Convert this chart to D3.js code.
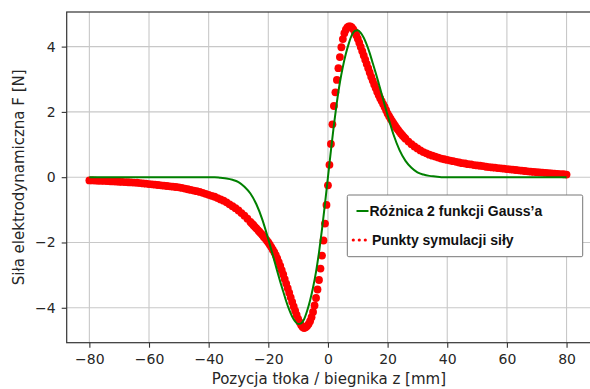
<!DOCTYPE html>
<html>
<head lang="pl">
    <meta charset="UTF-8">
    <script src="https://cdn.jsdelivr.net/npm/d3@7/dist/d3.min.js"></script>
    <style>
        body { margin: 0; background: #ffffff; }
        svg text { font-family: "DejaVu Sans", sans-serif; }
    </style>
</head>
<body>
<svg width="590" height="389"></svg>
<script>
    // tick labels
    var xTicks = [-80, -60, -40, -20, 0, 20, 40, 60, 80];
    var yTicks = [-4, -2, 0, 2, 4];
    var legendLabels = ['Różnica 2 funkcji Gauss\u2019a', 'Punkty symulacji siły'];

    // difference of two gaussians (green line)
    var gaussZ = [-80, -60, -50, -44, -40, -38, -36, -34, -32, -30, -28, -26, -24, -22,
        -20, -19, -18, -17, -16, -15, -14, -13, -12, -11, -10, -9, -8, -7, -6, -5, -4, -3, -2, -1,
        0, 1, 2, 3, 4, 5, 6, 7, 8, 9, 10, 11, 12, 13, 14, 15, 16, 17, 18, 19, 20,
        22, 24, 26, 28, 30, 32, 34, 36, 38, 40, 44, 50, 60, 80];
    var gaussF = [0, 0, 0, 0, 0, 0, -0.02, -0.04, -0.08, -0.15, -0.29, -0.50, -0.83, -1.30,
        -1.90, -2.22, -2.55, -2.88, -3.20, -3.50, -3.80, -4.06, -4.27, -4.42, -4.50, -4.48, -4.35, -4.10, -3.78, -3.38, -2.90, -2.30, -1.60, -0.82,
        0, 0.82, 1.60, 2.30, 2.90, 3.38, 3.78, 4.10, 4.35, 4.48, 4.50, 4.42, 4.27, 4.06, 3.80, 3.50, 3.20, 2.88, 2.55, 2.22, 1.90,
        1.30, 0.83, 0.50, 0.29, 0.15, 0.08, 0.04, 0.02, 0, 0, 0, 0, 0, 0];

    // simulation points (red): z -80..-26 step 1
    var simLeftTail = [-0.10, -0.10, -0.105, -0.11, -0.11, -0.115, -0.12, -0.125, -0.13, -0.135,
        -0.14, -0.145, -0.15, -0.155, -0.16, -0.165, -0.17, -0.18, -0.19, -0.20,
        -0.21, -0.22, -0.23, -0.24, -0.25, -0.26, -0.27, -0.28, -0.29, -0.30,
        -0.31, -0.33, -0.35, -0.37, -0.39, -0.41, -0.43, -0.45, -0.48, -0.51,
        -0.54, -0.57, -0.60, -0.64, -0.68, -0.72, -0.77, -0.83, -0.89, -0.95,
        -1.02, -1.10, -1.18, -1.27, -1.37];
    // z -25.5..25.5 step 0.5
    var simCore = [-1.42, -1.47, -1.52, -1.57, -1.62, -1.67, -1.72, -1.77, -1.83, -1.88,
        -1.94, -2.00, -2.07, -2.14, -2.22, -2.30, -2.39, -2.49, -2.60, -2.72,
        -2.85, -2.98, -3.12, -3.26, -3.40, -3.54, -3.68, -3.82, -3.96, -4.09,
        -4.22, -4.34, -4.44, -4.53, -4.59, -4.62, -4.60, -4.56, -4.50, -4.41,
        -4.29, -4.13, -3.93, -3.70, -3.44, -3.15, -2.80, -2.40, -1.94, -1.42,
        -0.85, -0.25, 0.38, 1.02, 1.62, 2.18, 2.60, 2.98, 3.34, 3.68,
        3.98, 4.23, 4.41, 4.52, 4.59, 4.62, 4.62, 4.59, 4.53, 4.45,
        4.35, 4.24, 4.12, 3.99, 3.86, 3.73, 3.60, 3.47, 3.34, 3.21,
        3.08, 2.96, 2.84, 2.73, 2.62, 2.52, 2.42, 2.33, 2.24, 2.15,
        2.05, 1.95, 1.87, 1.79, 1.72, 1.65, 1.58, 1.51, 1.45, 1.39,
        1.33, 1.28, 1.23];
    // z 26..80 step 1
    var simRightTail = [1.18, 1.09, 1.01, 0.94, 0.88, 0.82, 0.77, 0.73, 0.69, 0.66,
        0.63, 0.60, 0.57, 0.55, 0.53, 0.51, 0.49, 0.47, 0.45, 0.43,
        0.42, 0.40, 0.39, 0.37, 0.36, 0.35, 0.34, 0.32, 0.31, 0.30,
        0.29, 0.28, 0.27, 0.26, 0.25, 0.24, 0.23, 0.22, 0.21, 0.20,
        0.19, 0.18, 0.17, 0.16, 0.155, 0.145, 0.14, 0.13, 0.12, 0.115,
        0.11, 0.10, 0.095, 0.09, 0.08];

    var simZ = d3.range(-80, -25.5, 1).concat(d3.range(-25.5, 25.75, 0.5), d3.range(26, 80.5, 1));
    var simF = simLeftTail.concat(simCore, simRightTail);
    var simPoints = d3.zip(simZ, simF);
    var gaussPoints = d3.zip(gaussZ, gaussF);

    var plotLeft = 66.7, plotRight = 591, plotTop = 12, plotBottom = 342.7;
    var svg = d3.select('svg');

    var x = d3.scaleLinear().domain([-87.6, 88.2]).range([plotLeft, plotRight]);
    var y = d3.scaleLinear().domain([-5.07, 5.06]).range([plotBottom, plotTop]);

    var grid = svg.append('g');
    grid.selectAll('.vgrid')
        .data(xTicks)
        .enter()
        .append('line')
        .attr('x1', function (d) { return x(d); })
        .attr('x2', function (d) { return x(d); })
        .attr('y1', plotTop)
        .attr('y2', plotBottom)
        .attr('stroke', '#c8c8c8')
        .attr('stroke-width', 1.1);
    grid.selectAll('.hgrid')
        .data(yTicks)
        .enter()
        .append('line')
        .attr('x1', plotLeft)
        .attr('x2', plotRight)
        .attr('y1', function (d) { return y(d); })
        .attr('y2', function (d) { return y(d); })
        .attr('stroke', '#c8c8c8')
        .attr('stroke-width', 1.1);

    // red simulation points
    svg.append('g').selectAll('circle')
        .data(simPoints)
        .enter()
        .append('circle')
        .attr('cx', function (d) { return x(d[0]); })
        .attr('cy', function (d) { return y(d[1]); })
        .attr('r', 3.9)
        .attr('fill', '#ff0000');

    // green line
    var line = d3.line()
        .x(function (d) { return x(d[0]); })
        .y(function (d) { return y(d[1]); })
        .curve(d3.curveMonotoneX);
    svg.append('path')
        .datum(gaussPoints)
        .attr('d', line)
        .attr('fill', 'none')
        .attr('stroke', '#008000')
        .attr('stroke-width', 2);

    // axes
    var xAxis = svg.append('g')
        .attr('transform', 'translate(0,' + plotBottom + ')')
        .call(d3.axisBottom(x).tickValues(xTicks).tickSize(5).tickPadding(6));
    var yAxis = svg.append('g')
        .attr('transform', 'translate(' + plotLeft + ',0)')
        .call(d3.axisLeft(y).tickValues(yTicks).tickSize(5).tickPadding(6));
    [xAxis, yAxis].forEach(function (a) {
        a.select('.domain').remove();
        a.selectAll('line').attr('stroke', '#333333').attr('stroke-width', 1.1);
        a.selectAll('text')
            .attr('fill', '#262626')
            .style('font-size', '14px')
            .style('font-family', '"DejaVu Sans", sans-serif');
    });

    svg.append('rect')
        .attr('x', plotLeft)
        .attr('y', plotTop)
        .attr('width', plotRight - plotLeft)
        .attr('height', plotBottom - plotTop)
        .attr('fill', 'none')
        .attr('stroke', '#333333')
        .attr('stroke-width', 1.2);

    svg.append('text')
        .text('Pozycja tłoka / biegnika z [mm]')
        .attr('x', (plotLeft + plotRight) / 2)
        .attr('y', 384)
        .attr('text-anchor', 'middle')
        .attr('fill', '#262626')
        .style('font-size', '15px');

    svg.append('text')
        .text('Siła elektrodynamiczna F [N]')
        .attr('transform', 'translate(23.5,' + (plotTop + plotBottom) / 2 + ') rotate(-90)')
        .attr('text-anchor', 'middle')
        .attr('fill', '#262626')
        .style('font-size', '15px');

    // legend
    var lg = svg.append('g');
    lg.append('rect')
        .attr('x', 347.3)
        .attr('y', 195)
        .attr('width', 235.4)
        .attr('height', 61.7)
        .attr('rx', 1.5)
        .attr('fill', '#ffffff')
        .attr('stroke', '#777777')
        .attr('stroke-width', 1);
    lg.append('line')
        .attr('x1', 356.5).attr('x2', 368.5)
        .attr('y1', 211).attr('y2', 211)
        .attr('stroke', '#008000')
        .attr('stroke-width', 2);
    lg.selectAll('.ldot')
        .data([353.3, 359.3, 365.3])
        .enter()
        .append('circle')
        .attr('cx', function (d) { return d; })
        .attr('cy', 240)
        .attr('r', 1.6)
        .attr('fill', '#ff0000');
    lg.selectAll('.ltext')
        .data(legendLabels)
        .enter()
        .append('text')
        .text(function (d) { return d; })
        .attr('x', function (d, i) { return i === 0 ? 369.5 : 372; })
        .attr('y', function (d, i) { return 216 + i * 29; })
        .attr('fill', '#111111')
        .style('font-family', '"Liberation Sans", Arial, sans-serif')
        .style('font-weight', 'bold')
        .style('font-size', '14px');
</script>
</body>
</html>
